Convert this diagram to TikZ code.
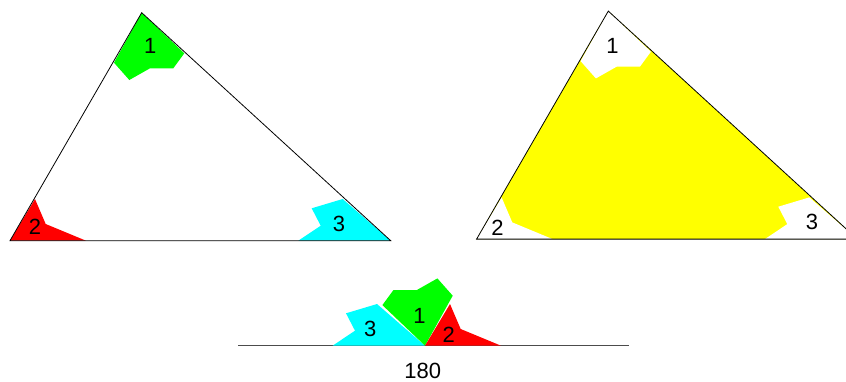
\documentclass[tikz,border=0pt]{standalone}
\usepackage{fontspec}
\setmainfont{Liberation Sans}
\usetikzlibrary{calc}
\definecolor{pgreen}{RGB}{0,255,0}
\definecolor{pred}{RGB}{255,0,0}
\definecolor{pcyan}{RGB}{0,255,255}
\definecolor{pyellow}{RGB}{255,255,0}
\tikzset{
    edge/.style={draw=black, line width=0.8pt},
    base/.style={draw=black!70, line width=1pt},
    lbl/.style={font=\fontsize{22}{26}\selectfont, inner sep=0pt},
}
% corner pieces, relative to their vertex
\newcommand{\cornerone}{(0,0) -- (42.6,40.6) -- (31.6,55.6) -- (8.3,55.6) -- (-12.4,67.3) -- (-27.7,50) -- cycle}
\newcommand{\cornertwo}{(0,0) -- (25,-41.7) -- (35.7,-16.7) -- (76,0) -- cycle}
\newcommand{\cornerthree}{(0,0) -- (-48,-41.7) -- (-79,-32.4) -- (-70,-15) -- (-92.4,0) -- cycle}
\begin{document}
\begin{tikzpicture}[x=1pt, y=-1pt]
    \useasboundingbox (0,0) rectangle (846,381);
    \clip (0,0) rectangle (846,381);

    % Linkes Dreieck
    \coordinate (A) at (141.7,12.7);
    \coordinate (B) at (10,240.7);
    \coordinate (C) at (390.7,240.7);
    \fill[pgreen, shift={(A)}] \cornerone;
    \fill[pred, shift={(B)}] \cornertwo;
    \fill[pcyan, shift={(C)}] \cornerthree;
    \draw[edge] (A) -- (B) -- (C) -- cycle;
    \node[lbl] at (150.3,45.8) {1};
    \node[lbl] at (35,226.7) {2};
    \node[lbl] at (339,224) {3};

    % Rechtes Dreieck (Innenfläche)
    \coordinate (A2) at ($(A)+(466.6,-1.6)$);
    \coordinate (B2) at ($(B)+(466.6,-1.6)$);
    \coordinate (C2) at ($(C)+(466.6,-1.6)$);
    \fill[pyellow] (A2) -- (B2) -- (C2) -- cycle;
    \fill[white, shift={(A2)}] \cornerone;
    \fill[white, shift={(B2)}] \cornertwo;
    \fill[white, shift={(C2)}] \cornerthree;
    \draw[edge] (A2) -- (B2) -- (C2) -- cycle;
    \node[lbl] at (612.5,45.8) {1};
    \node[lbl] at (497.5,227.5) {2};
    \node[lbl] at (812,221.7) {3};

    % Winkelsumme auf der Geraden
    \coordinate (L) at (238.3,345.7);
    \coordinate (R) at (629.3,345.7);
    \coordinate (O) at (425,345.7);
    \draw[base] (L) -- (R);
    \fill[pcyan, shift={(O)}] \cornerthree;
    \fill[pgreen, shift={(O)}, rotate=180] \cornerone;
    \fill[pred, shift={(O)}] \cornertwo;
    \node[lbl] at (370.3,329.2) {3};
    \node[lbl] at (419.5,315.8) {1};
    \node[lbl] at (448.8,335) {2};
    \node[lbl] at (422.7,370.5) {180};
\end{tikzpicture}
\end{document}
